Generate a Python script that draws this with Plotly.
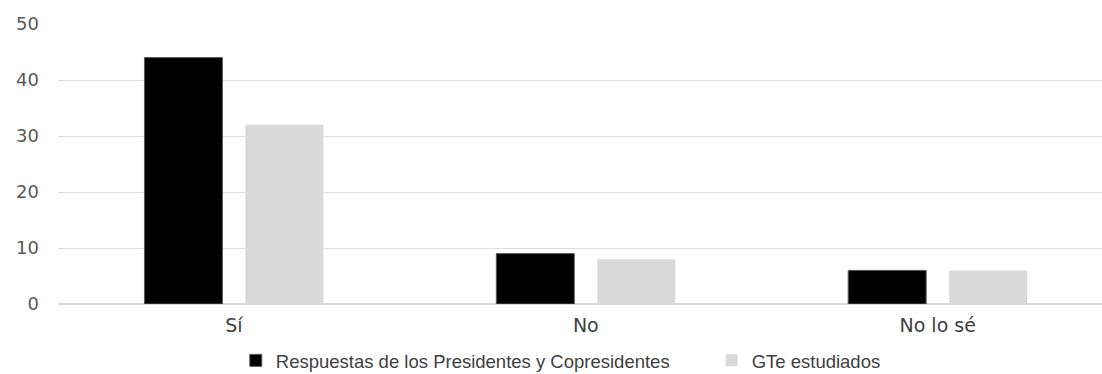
import plotly.graph_objects as go

categories = ["Sí", "No", "No lo sé"]
presidentes = [44, 9, 6]
gte = [32, 8, 6]
series_names = ["Respuestas de los Presidentes y Copresidentes", "GTe estudiados"]
y_ticks = [0, 10, 20, 30, 40, 50]

fig = go.Figure()
fig.add_trace(go.Bar(
    x=categories, y=presidentes, name=series_names[0] + "\u2003\u2003",
    marker=dict(color="#000000", line=dict(color="#595959", width=1)),
))
fig.add_trace(go.Bar(
    x=categories, y=gte, name=series_names[1],
    marker=dict(color="#D9D9D9", line=dict(color="#D9D9D9", width=0)),
))

fig.update_layout(
    width=1102, height=374,
    margin=dict(l=57.5, r=0, t=24, b=70.3, autoexpand=False),
    paper_bgcolor="white", plot_bgcolor="white",
    barmode="group", bargap=0.426, bargroupgap=0.228,
    font=dict(family="Liberation Sans, Arial, sans-serif", color="#595959"),
    showlegend=True,
    legend=dict(
        orientation="h", x=0.4816, xanchor="center",
        y=-0.203, yanchor="middle",
        font=dict(size=18.5, color="#404040"),
        itemwidth=30, traceorder="normal",
    ),
)
fig.update_xaxes(
    range=[-0.5, 2.467], showgrid=False, showline=False, zeroline=False,
    tickfont=dict(size=19, family="DejaVu Sans, sans-serif", color="#404040"),
    ticks="", ticklabelstandoff=8,
)
fig.update_yaxes(
    range=[0, 50], tickvals=y_ticks, showgrid=True, gridcolor="#DDDDDD", gridwidth=1.2,
    zeroline=True, zerolinecolor="#D9D9D9", zerolinewidth=1.5, showline=False,
    tickfont=dict(size=18, family="DejaVu Sans, sans-serif", color="#595959"),
    ticks="", ticklabelstandoff=18,
)

fig.write_html("out.html")
